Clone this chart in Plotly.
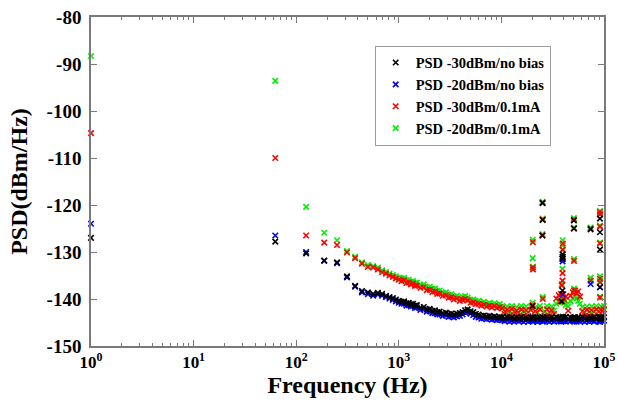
import plotly.graph_objects as go

# ---------------- data ----------------
freq_hz = [
    # low region: individual bins
    1, 62.5, 125, 187.5, 250, 312.5, 375, 437.5, 500, 562.5, 625, 687.5, 750, 812.5, 875, 937.5, 1000,
    # 1 kHz - 10 kHz
    1062.5, 1125, 1187.5, 1250, 1312.5, 1375, 1437.5, 1500, 1625, 1750, 1875, 2000, 2125, 2250, 2375, 2500,
    2687.5, 2875, 3062.5, 3250, 3437.5, 3687.5, 3937.5, 4187.5, 4437.5, 4687.5, 5000, 5312.5, 5625, 6000,
    6375, 6750, 7187.5, 7625, 8062.5, 8562.5, 9062.5, 9625,
    # 10 kHz - 100 kHz
    10187.5, 10750, 11375, 12000, 12625, 13312.5, 14062.5, 14812.5, 15625, 16500, 17375, 18312.5, 19312.5,
    20125, 20187.5, 20250, 20312.5, 21375, 22500, 23750,
    25125, 25187.5, 25250, 25312.5, 26375, 27812.5, 29312.5, 30875, 32562.5, 34312.5, 36187.5, 37500, 38125, 38750,
    39375, 39437.5, 39500, 39562.5, 39625, 40187.5, 40937.5, 42437.5, 44750, 47187.5, 49750,
    50875, 50937.5, 51000, 51062.5, 52437.5, 54187.5, 56000, 58312.5, 61437.5, 64750, 68250, 71937.5,
    74000, 74062.5, 75812.5, 79875, 84187.5, 88750,
    91250, 91312.5, 91375, 91437.5, 91500, 91562.5, 91625, 93500, 96937.5, 99937.5,
]

psd_m30_nobias = [
    -127.0, -127.8, -130.3, -131.8, -132.2, -135.2, -137.2, -138.3, -138.6, -138.9, -138.7, -138.9, -139.3, -139.6, -139.8, -140.1, -140.4,
    -140.6, -140.5, -140.9, -140.8, -141.1, -141.0, -141.4, -141.3, -141.8, -141.7, -142.2, -142.1, -142.5, -142.4, -142.8, -142.7,
    -143.0, -142.9, -143.2, -143.1, -143.3, -143.1, -143.0, -142.8, -142.4, -142.2, -142.6, -142.8, -143.2, -143.3,
    -143.6, -143.5, -143.7, -143.6, -143.8, -143.7, -143.9, -143.8,
    -143.9, -144.1, -143.8, -144.0, -143.9, -144.2, -143.9, -144.1, -143.8, -144.2, -143.9, -144.1, -143.9,
    -141.5, -143.9, -144.0, -144.1, -143.9, -144.2, -143.9,
    -126.5, -119.6, -123.2, -143.9, -144.1, -143.8, -144.2, -143.9, -144.1, -143.8, -144.0, -143.9, -144.1, -140.5,
    -138.2, -131.5, -130.5, -131.0, -143.8, -143.9, -144.1, -143.8, -144.2, -143.9, -144.0,
    -123.3, -125.0, -143.9, -144.1, -143.9, -144.2, -143.9, -144.1, -143.8, -144.2, -143.9, -144.1,
    -125.2, -143.9, -144.0, -143.9, -144.2, -143.9,
    -122.9, -125.8, -129.5, -137.5, -143.9, -144.1, -144.0, -143.9, -144.1, -143.9,
]

psd_m20_nobias = [
    -124.0, -126.5, -130.0, -131.9, -132.4, -135.4, -137.4, -138.6, -139.0, -139.3, -139.1, -139.3, -139.6, -139.9, -140.2, -140.5, -140.8,
    -141.0, -141.0, -141.4, -141.3, -141.6, -141.5, -141.9, -141.8, -142.3, -142.2, -142.7, -142.6, -143.0, -143.0, -143.3, -143.3,
    -143.6, -143.5, -143.8, -143.7, -143.9, -143.7, -143.6, -143.3, -142.9, -142.7, -143.1, -143.4, -143.8, -143.9,
    -144.2, -144.1, -144.3, -144.2, -144.4, -144.3, -144.5, -144.4,
    -144.5, -144.7, -144.5, -144.8, -144.6, -144.8, -144.5, -144.7, -144.6, -144.9, -144.5, -144.8, -144.6,
    -144.5, -144.7, -144.6, -144.8, -144.5, -144.9, -144.6,
    -144.5, -144.7, -144.6, -144.8, -144.6, -144.5, -144.9, -144.6, -144.8, -144.5, -144.7, -144.6, -144.8, -144.5,
    -139.0, -131.3, -132.0, -144.6, -144.5, -144.7, -144.6, -144.8, -144.5, -144.7, -144.6,
    -144.5, -144.7, -144.6, -144.8, -144.5, -144.8, -144.6, -144.7, -144.5, -144.9, -144.6, -144.8,
    -144.5, -136.8, -144.6, -144.8, -144.5, -144.7,
    -144.6, -144.8, -137.5, -144.5, -144.7, -144.6, -144.8, -144.5, -144.7, -144.6,
]

psd_m30_01mA = [
    -104.7, -110.0, -126.5, -128.0, -128.5, -130.1, -131.3, -132.5, -133.2, -133.3, -133.7, -134.3, -134.6, -135.0, -135.3, -135.6, -135.9,
    -136.2, -136.0, -136.6, -136.5, -136.9, -136.7, -137.2, -137.1, -137.6, -137.5, -138.1, -138.0, -138.5, -138.4, -138.9, -138.8,
    -139.3, -139.2, -139.7, -139.6, -140.1, -139.9, -140.4, -140.2, -140.0, -140.3, -140.8, -140.7, -141.1, -141.0,
    -141.4, -141.2, -141.6, -141.4, -141.8, -141.5, -141.9, -141.7,
    -142.0, -143.2, -142.3, -143.6, -142.1, -143.4, -142.5, -143.8, -142.2, -143.5, -142.4, -143.7, -142.3,
    -141.3, -133.3, -127.9, -133.7, -142.6, -143.8, -142.2,
    -126.5, -119.5, -123.1, -140.0, -143.5, -142.2, -143.7, -142.4, -143.2, -139.9, -139.2, -140.5, -138.9, -137.1,
    -136.1, -134.5, -131.5, -129.5, -128.2, -139.0, -140.2, -139.5, -142.5, -139.3, -138.6,
    -123.1, -125.0, -131.9, -138.2, -138.2, -138.8, -138.4, -139.5, -142.6, -143.7, -142.3, -143.6,
    -125.0, -136.1, -142.4, -143.6, -142.2, -143.5,
    -121.5, -124.6, -128.2, -135.7, -136.5, -139.7, -122.0, -142.3, -143.4, -142.2,
]

psd_m20_01mA = [
    -88.3, -93.6, -120.4, -125.9, -127.5, -129.8, -131.0, -132.2, -132.8, -133.0, -133.3, -133.9, -134.2, -134.6, -134.9, -135.2, -135.5,
    -135.6, -135.5, -136.0, -135.9, -136.3, -136.2, -136.6, -136.5, -137.0, -136.9, -137.5, -137.4, -137.9, -137.8, -138.3, -138.2,
    -138.7, -138.6, -139.1, -139.0, -139.5, -139.3, -139.8, -139.6, -139.4, -139.7, -140.2, -140.1, -140.5, -140.4,
    -140.8, -140.6, -141.0, -140.8, -141.2, -140.9, -141.3, -141.1,
    -141.5, -142.6, -141.6, -142.8, -141.5, -142.7, -141.7, -142.9, -141.5, -142.6, -141.6, -142.8, -141.6,
    -140.8, -131.3, -127.4, -133.1, -141.8, -142.9, -141.5,
    -126.2, -119.3, -122.9, -139.6, -142.7, -141.5, -142.9, -141.6, -142.5, -141.0, -140.6, -139.8, -139.5, -136.8,
    -133.6, -131.0, -128.6, -127.5, -129.6, -139.6, -140.8, -141.3, -141.6, -140.5, -139.8,
    -122.8, -124.8, -131.5, -137.8, -139.5, -139.8, -140.4, -141.0, -141.7, -142.8, -141.6, -142.7,
    -124.8, -135.5, -141.6, -142.7, -141.5, -142.6,
    -121.3, -124.4, -128.0, -135.2, -136.3, -139.5, -121.8, -141.6, -142.6, -141.5,
]

series_names = ["PSD -30dBm/no bias", "PSD -20dBm/no bias", "PSD -30dBm/0.1mA", "PSD -20dBm/0.1mA"]
series_values = [psd_m30_nobias, psd_m20_nobias, psd_m30_01mA, psd_m20_01mA]
series_colors = ["#000000", "#0000ff", "#ff0000", "#00ee00"]

y_tickvals = [-150, -140, -130, -120, -110, -100, -90, -80]
y_ticktext = ["-150", "-140", "-130", "-120", "-110", "-100", "-90", "-80"]
x_tickvals = [1, 10, 100, 1000, 10000, 100000]
x_ticktext = ["10<sup>0</sup>", "10<sup>1</sup>", "10<sup>2</sup>", "10<sup>3</sup>", "10<sup>4</sup>", "10<sup>5</sup>"]

# ---------------- figure ----------------
SERIF = "Liberation Serif, Times New Roman, serif"
AXC = "#7a7a7a"

fig = go.Figure()
# drawing order: green, red, blue, black ; legend order black, blue, red, green
draw_order = [3, 2, 1, 0]
for i in draw_order:
    fig.add_trace(go.Scatter(
        x=freq_hz, y=series_values[i], mode="markers", name=series_names[i],
        legendrank=i + 1, cliponaxis=False,
        marker=dict(symbol="x-thin", size=5.5, color=series_colors[i],
                    line=dict(color=series_colors[i], width=1.6)),
    ))

minor_vals = [m * 10 ** d for d in range(5) for m in range(2, 10)]

fig.update_layout(
    width=619, height=406,
    margin=dict(l=91, r=15, t=17, b=60),
    paper_bgcolor="white", plot_bgcolor="white",
    font=dict(family=SERIF, color="black"),
    showlegend=True,
    legend=dict(
        x=0.553, y=0.913, xanchor="left", yanchor="top",
        bgcolor="white", bordercolor="#9a9a9a", borderwidth=1,
        font=dict(family=SERIF, size=14.5, color="black", weight="bold"),
        tracegroupgap=0, itemwidth=30,
    ),
    xaxis=dict(
        type="log", range=[0, 5], automargin=False, ticklabeloverflow="allow",
        tickmode="array", tickvals=x_tickvals, ticktext=x_ticktext,
        ticks="inside", ticklen=6, tickwidth=1.2, tickcolor=AXC,
        showline=True, linecolor=AXC, linewidth=1.5, mirror="ticks",
        showgrid=False, zeroline=False,
        minor=dict(tickmode="array", tickvals=minor_vals, ticks="inside", ticklen=3,
                   tickwidth=1, tickcolor=AXC, showgrid=False),
        tickfont=dict(family=SERIF, size=17, color="black", weight="bold"),
        title=dict(text="Frequency (Hz)", standoff=2,
                   font=dict(family=SERIF, size=24, color="black", weight="bold")),
    ),
    yaxis=dict(
        range=[-150, -80], automargin=False, ticklabeloverflow="allow",
        tickmode="array", tickvals=y_tickvals, ticktext=y_ticktext,
        ticks="inside", ticklen=6, tickwidth=1.2, tickcolor=AXC,
        showline=True, linecolor=AXC, linewidth=1.5, mirror="ticks",
        showgrid=False, zeroline=False,
        tickfont=dict(family=SERIF, size=19, color="black", weight="bold"),
        ticklabelstandoff=4,
        title=dict(text="PSD(dBm/Hz)", standoff=12,
                   font=dict(family=SERIF, size=24, color="black", weight="bold")),
    ),
)

# remove the browser's default 8 px page margin so the 619x406 figure fills the window
fig.write_html(
    "out.html",
    config={"displayModeBar": False},
    post_script="document.documentElement.style.margin='0';document.body.style.margin='0';"
                "document.body.style.overflow='hidden';",
)
